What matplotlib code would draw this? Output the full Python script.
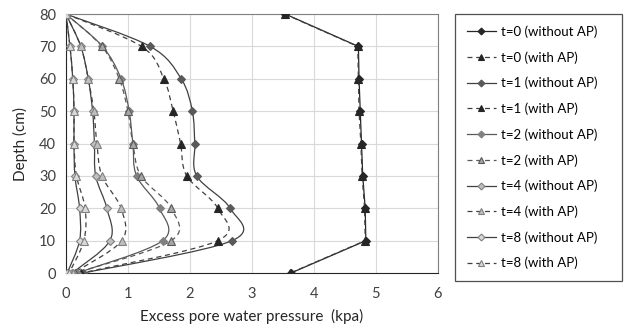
import matplotlib
matplotlib.use('Agg')
import matplotlib.pyplot as plt
from matplotlib.path import Path
from matplotlib.patches import PathPatch
from matplotlib.lines import Line2D

plt.rcParams['font.family'] = ['Lato', 'DejaVu Sans']

depth = [80, 70, 60, 50, 40, 30, 20, 10, 0]

t0_without = [3.54, 4.72, 4.73, 4.75, 4.77, 4.79, 4.83, 4.84, 3.63]
t0_with = [3.53, 4.71, 4.72, 4.73, 4.76, 4.78, 4.82, 4.83, 3.62]
t1_without = [0, 1.36, 1.86, 2.04, 2.08, 2.11, 2.65, 2.68, 0.28]
t1_with = [0, 1.22, 1.58, 1.73, 1.85, 1.95, 2.45, 2.45, 0.25]
t2_without = [0, 0.59, 0.89, 1.02, 1.08, 1.14, 1.51, 1.56, 0.18]
t2_with = [0, 0.58, 0.86, 1.00, 1.08, 1.21, 1.70, 1.70, 0.15]
t4_without = [0, 0.24, 0.36, 0.43, 0.46, 0.48, 0.66, 0.71, 0.10]
t4_with = [0, 0.24, 0.36, 0.45, 0.50, 0.58, 0.89, 0.90, 0.12]
t8_without = [0, 0.065, 0.11, 0.13, 0.13, 0.145, 0.22, 0.22, 0.02]
t8_with = [0, 0.065, 0.11, 0.13, 0.13, 0.17, 0.31, 0.29, 0.05]

labels = ['t=0 (without AP)', 't=0 (with AP)', 't=1 (without AP)', 't=1 (with AP)',
          't=2 (without AP)', 't=2 (with AP)', 't=4 (without AP)', 't=4 (with AP)',
          't=8 (without AP)', 't=8 (with AP)']


def smooth_path(xs, ys):
    # Excel-like smoothed line: Catmull-Rom turned into cubic Bezier segments
    pts = list(zip(xs, ys))
    verts = [pts[0]]
    codes = [Path.MOVETO]
    n = len(pts)
    for i in range(n - 1):
        p0 = pts[max(i - 1, 0)]
        p1 = pts[i]
        p2 = pts[i + 1]
        p3 = pts[min(i + 2, n - 1)]
        c1 = (p1[0] + (p2[0] - p0[0]) / 6, p1[1] + (p2[1] - p0[1]) / 6)
        c2 = (p2[0] - (p3[0] - p1[0]) / 6, p2[1] - (p3[1] - p1[1]) / 6)
        verts += [c1, c2, p2]
        codes += [Path.CURVE4] * 3
    return Path(verts, codes)


series = [
    (t0_without, 'D', '#262626', '#262626', '-', '#262626', False),
    (t0_with, '^', '#262626', '#262626', (0, (4, 3)), '#404040', False),
    (t1_without, 'D', '#595959', '#595959', '-', '#404040', True),
    (t1_with, '^', '#262626', '#262626', (0, (4, 3)), '#404040', True),
    (t2_without, 'D', '#808080', '#808080', '-', '#595959', True),
    (t2_with, '^', '#a6a6a6', '#595959', (0, (4, 3)), '#595959', True),
    (t4_without, 'D', '#bfbfbf', '#808080', '-', '#404040', True),
    (t4_with, '^', '#bfbfbf', '#808080', (0, (4, 3)), '#404040', True),
    (t8_without, 'D', '#d9d9d9', '#808080', '-', '#404040', True),
    (t8_with, '^', '#d9d9d9', '#808080', (0, (4, 3)), '#404040', True),
]

fig = plt.figure(figsize=(6.28, 3.27), dpi=100)
ax = fig.add_axes([0.105, 0.165, 0.592, 0.792])

handles = []
for (vals, mk, fc, ec, ls, lc, smooth), lab in zip(series, labels):
    ms = 4.5 if mk == 'D' else 5.5
    if smooth:
        ax.add_patch(PathPatch(smooth_path(vals, depth), fill=False, edgecolor=lc,
                               linewidth=0.9, linestyle=ls, zorder=3))
    else:
        ax.plot(vals, depth, color=lc, linewidth=0.9, linestyle=ls, zorder=3)
    ax.plot(vals, depth, linestyle='none', marker=mk, markersize=ms,
            markerfacecolor=fc, markeredgecolor=ec, markeredgewidth=0.8, zorder=4)
    handles.append(Line2D([], [], color=lc, linewidth=0.9, linestyle=ls, marker=mk,
                          markersize=ms - 1, markerfacecolor=fc, markeredgecolor=ec,
                          markeredgewidth=0.8, label=lab))

ax.set_xlim(0, 6)
ax.set_ylim(0, 80)
ax.set_xticks(range(0, 7))
ax.set_yticks(range(0, 81, 10))
ax.grid(True, color='#d9d9d9', linewidth=0.8)
ax.set_axisbelow(True)
ax.tick_params(length=0, labelsize=10.5, colors='#404040')
ax.tick_params(axis='x', pad=10)
ax.tick_params(axis='y', pad=7)
for s in ['top', 'right']:
    ax.spines[s].set_color('#808080')
for s in ['left', 'bottom']:
    ax.spines[s].set_color('#262626')
ax.set_xlabel('Excess pore water pressure  (kpa)', fontsize=11, color='#262626', labelpad=6)
ax.set_ylabel('Depth (cm)', fontsize=11, color='#262626', labelpad=8)

leg = fig.legend(handles=handles, loc='upper left',
                 bbox_to_anchor=(0.725, 0.165, 0.265, 0.792), mode='expand',
                 frameon=True, fancybox=False, edgecolor='#262626', fontsize=9.5,
                 labelspacing=1.0, handlelength=2.2, handletextpad=0.4,
                 borderpad=0.85, borderaxespad=0)
leg.get_frame().set_linewidth(0.9)

plt.savefig('out.png', dpi=100)
plt.close()
